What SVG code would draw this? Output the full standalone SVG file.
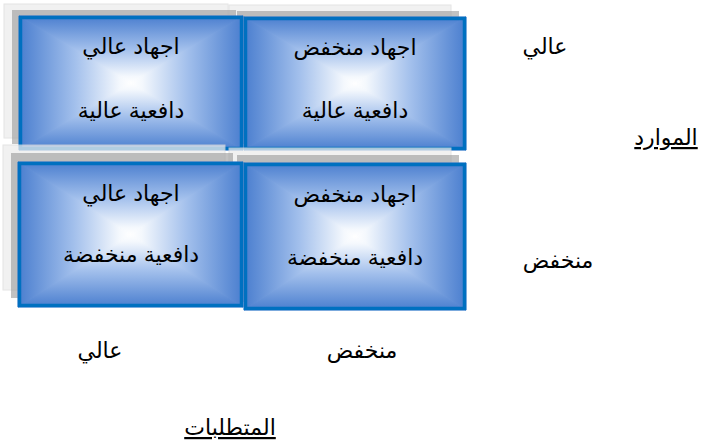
<svg xmlns="http://www.w3.org/2000/svg" width="702" height="443" viewBox="0 0 702 443">
  <style>
    .sh-light { fill: #ededed; stroke: #dcdcdc; stroke-width: 1; opacity: 0.75; }
    .sh-dark { fill: #9a9a9a; opacity: 0.6; }
    .base { fill: #9dbbe9; }
    .frame { fill: none; stroke: #0070c0; stroke-width: 3.5; }
    .gT { fill: url(#gT); stroke: url(#gT); stroke-width: 1; }
    .gB { fill: url(#gB); stroke: url(#gB); stroke-width: 1; }
    .gL { fill: url(#gL); stroke: url(#gL); stroke-width: 1; }
    .gR { fill: url(#gR); stroke: url(#gR); stroke-width: 1; }
    .t { font-family: "Liberation Sans", "DejaVu Sans", sans-serif; font-size: 22px; fill: #000; text-anchor: middle; direction: rtl; }
    .u { text-decoration: underline; }
  </style>
  <defs>
    <!-- rectangular "from centre" fill built from four edge triangles -->
    <linearGradient id="gT" x1="0" y1="0" x2="0" y2="1">
      <stop offset="0" stop-color="#4a7ecf"/>
      <stop offset="0.5" stop-color="#a3c0ec"/>
      <stop offset="0.9" stop-color="#f4f8fd"/>
      <stop offset="1" stop-color="#ffffff"/>
    </linearGradient>
    <linearGradient id="gB" x1="0" y1="1" x2="0" y2="0">
      <stop offset="0" stop-color="#4a7ecf"/>
      <stop offset="0.5" stop-color="#a3c0ec"/>
      <stop offset="0.9" stop-color="#f4f8fd"/>
      <stop offset="1" stop-color="#ffffff"/>
    </linearGradient>
    <linearGradient id="gL" x1="0" y1="0" x2="1" y2="0">
      <stop offset="0" stop-color="#4a7ecf"/>
      <stop offset="0.5" stop-color="#a3c0ec"/>
      <stop offset="0.9" stop-color="#f4f8fd"/>
      <stop offset="1" stop-color="#ffffff"/>
    </linearGradient>
    <linearGradient id="gR" x1="1" y1="0" x2="0" y2="0">
      <stop offset="0" stop-color="#4a7ecf"/>
      <stop offset="0.5" stop-color="#a3c0ec"/>
      <stop offset="0.9" stop-color="#f4f8fd"/>
      <stop offset="1" stop-color="#ffffff"/>
    </linearGradient>
  </defs>

  <!-- top-right cell -->
  <g id="cell-top-right">
    <rect class="sh-light" x="229" y="5" width="222" height="133"/>
    <rect class="sh-dark" x="237" y="11" width="222" height="133"/>
    <rect class="base" x="244" y="17" width="222" height="133"/>
    <polygon class="gT" points="244,17 466,17 355,83.5"/>
    <polygon class="gB" points="244,150 466,150 355,83.5"/>
    <polygon class="gL" points="244,17 244,150 355,83.5"/>
    <polygon class="gR" points="466,17 466,150 355,83.5"/>
    <rect class="frame" x="245.5" y="18.5" width="219" height="130"/>
    <text class="t" x="355" y="55">اجهاد منخفض</text>
    <text class="t" x="355" y="118">دافعية عالية</text>
  </g>

  <!-- top-left cell -->
  <g id="cell-top-left">
    <rect class="sh-light" x="4" y="4" width="224" height="134"/>
    <rect class="sh-dark" x="12" y="10" width="224" height="134"/>
    <rect class="base" x="19" y="16" width="224" height="134"/>
    <polygon class="gT" points="19,16 243,16 131,83"/>
    <polygon class="gB" points="19,150 243,150 131,83"/>
    <polygon class="gL" points="19,16 19,150 131,83"/>
    <polygon class="gR" points="243,16 243,150 131,83"/>
    <rect class="frame" x="20.5" y="17.5" width="221" height="131"/>
    <text class="t" x="131" y="54">اجهاد عالي</text>
    <text class="t" x="131" y="118">دافعية عالية</text>
  </g>

  <!-- bottom-right cell -->
  <g id="cell-bottom-right">
    <rect class="sh-light" x="229" y="148" width="222" height="147"/>
    <rect class="sh-dark" x="237" y="155" width="222" height="147"/>
    <rect class="base" x="244" y="163" width="222" height="147"/>
    <polygon class="gT" points="244,163 466,163 355,236.5"/>
    <polygon class="gB" points="244,310 466,310 355,236.5"/>
    <polygon class="gL" points="244,163 244,310 355,236.5"/>
    <polygon class="gR" points="466,163 466,310 355,236.5"/>
    <rect class="frame" x="245.5" y="164.5" width="219" height="144"/>
    <text class="t" x="355" y="202">اجهاد منخفض</text>
    <text class="t" x="355" y="265">دافعية منخفضة</text>
  </g>

  <!-- bottom-left cell -->
  <g id="cell-bottom-left">
    <rect class="sh-light" x="3" y="145" width="222" height="145"/>
    <rect class="sh-dark" x="11" y="153" width="222" height="145"/>
    <rect class="base" x="18" y="162" width="225" height="145"/>
    <polygon class="gT" points="18,162 243,162 130.5,234.5"/>
    <polygon class="gB" points="18,307 243,307 130.5,234.5"/>
    <polygon class="gL" points="18,162 18,307 130.5,234.5"/>
    <polygon class="gR" points="243,162 243,307 130.5,234.5"/>
    <rect class="frame" x="19.5" y="163.5" width="222" height="142"/>
    <text class="t" x="131" y="201">اجهاد عالي</text>
    <text class="t" x="131" y="262">دافعية منخفضة</text>
  </g>

  <!-- axis labels -->
  <g id="axis-resources">
    <text class="t" x="545" y="54">عالي</text>
    <text class="t u" x="666" y="145">الموارد</text>
    <text class="t" x="558" y="268">منخفض</text>
  </g>
  <g id="axis-demands">
    <text class="t" x="100" y="358">عالي</text>
    <text class="t" x="362" y="358">منخفض</text>
    <text class="t u" x="230" y="435">المتطلبات</text>
  </g>
</svg>
